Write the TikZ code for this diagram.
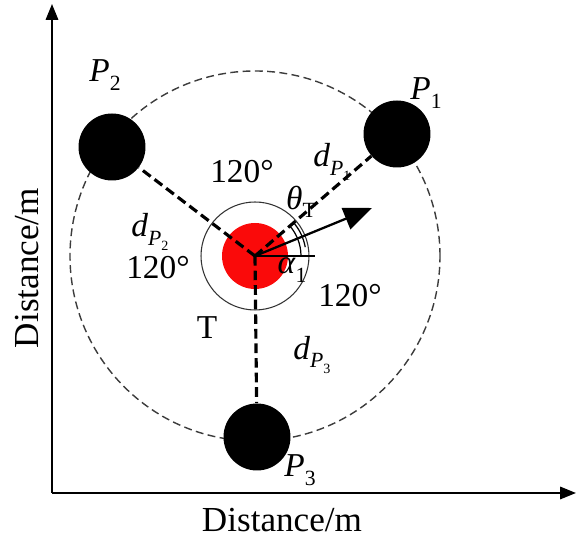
\documentclass[tikz,border=0pt]{standalone}
\usepackage{fontspec}
\setmainfont{Liberation Serif}
\usepackage{xcolor}
\usetikzlibrary{arrows.meta, calc}
\definecolor{doelrood}{RGB}{250,10,10}
\definecolor{cirkelgrijs}{RGB}{60,60,60}
\newcommand{\lbl}[2]{\textit{#1}\raisebox{-0.55ex}{\scalebox{0.65}{#2}}}
\tikzset{
  anker/.style={circle, fill=black, minimum size=1.34cm, inner sep=0pt},
  afstand/.style={line width=1.8pt, dash pattern=on 5.5pt off 2.8pt},
  tekst/.style={font=\fontsize{19}{21}\selectfont, inner sep=1pt},
}
\begin{document}
\begin{tikzpicture}[x=0.02cm, y=0.02cm]
  \useasboundingbox (0,0) rectangle (576,540);
  % assen
  \coordinate (O) at (52,47);
  \coordinate (ytop) at (52,536);
  \coordinate (xend) at (576,47);
  \draw[line width=1.2pt, -{Triangle[length=9pt, width=7pt]}] (O) -- (ytop);
  \draw[line width=1.2pt, -{Triangle[length=9pt, width=7pt]}] (O) -- (xend);
  \node[font=\fontsize{20}{22}\selectfont] (xlab) at (282,20) {Distance/m};
  \node[font=\fontsize{20}{22}\selectfont, rotate=90] (ylab) at (27,272) {Distance/m};
  % cirkel door de ankers
  \coordinate (C) at (255,284);
  \draw[cirkelgrijs, line width=0.8pt, dash pattern=on 4.5pt off 2.5pt] (C) circle (185);
  % doel T
  \node[circle, draw=black!80, line width=0.6pt, minimum size=2.16cm, inner sep=0pt] (ring) at (C) {};
  \node[circle, fill=doelrood, minimum size=1.32cm, inner sep=0pt] (T) at (C) {};
  % ankers
  \node[anker] (p1) at (397,406) {};
  \node[anker] (p2) at (112,393) {};
  \node[anker] (p3) at (257,103) {};
  % afstanden
  \draw[afstand] (T.center) -- (p1);
  \draw[afstand] (T.center) -- (p2);
  \draw[afstand] (T.center) -- (p3);
  % richting en hoeken
  \coordinate (kop) at (372,332);
  \coordinate (hor) at (315,284);
  \draw[line width=1.2pt] (T.center) -- (hor);
  \draw[line width=1.3pt, -{Triangle[length=16pt, width=13pt]}] (T.center) -- (kop);
  \draw[line width=0.7pt] ($(C)+(46,0)$) arc (0:22:46);
  \draw[line width=0.7pt] ($(C)+({46*cos(22)},{46*sin(22)})$) arc (22:41:46);
  \draw[line width=0.7pt] ($(C)+({51*cos(10)},{51*sin(10)})$) arc (10:41:51);
  % labels
  \node[tekst] (hoek1) at (242,368) {120°};
  \node[tekst] (hoek2) at (158,272) {120°};
  \node[tekst] (hoek3) at (350,244) {120°};
  \node[tekst] (dp1) at (332,378) {\lbl{d}{\lbl{P}{1}}};
  \node[tekst] (dp2) at (150,308) {\lbl{d}{\lbl{P}{2}}};
  \node[tekst] (dp3) at (312,185) {\lbl{d}{\lbl{P}{3}}};
  \node[tekst] (theta) at (301,338) {\lbl{θ}{T}};
  \node[tekst] (alpha) at (292,270) {\lbl{α}{1}};
  \node[tekst] (tlab) at (207,212) {T};
  \node[tekst] (lp1) at (426,447) {\lbl{P}{1}};
  \node[tekst] (lp2) at (105,465) {\lbl{P}{2}};
  \node[tekst] (lp3) at (300,70) {\lbl{P}{3}};
\end{tikzpicture}
\end{document}
